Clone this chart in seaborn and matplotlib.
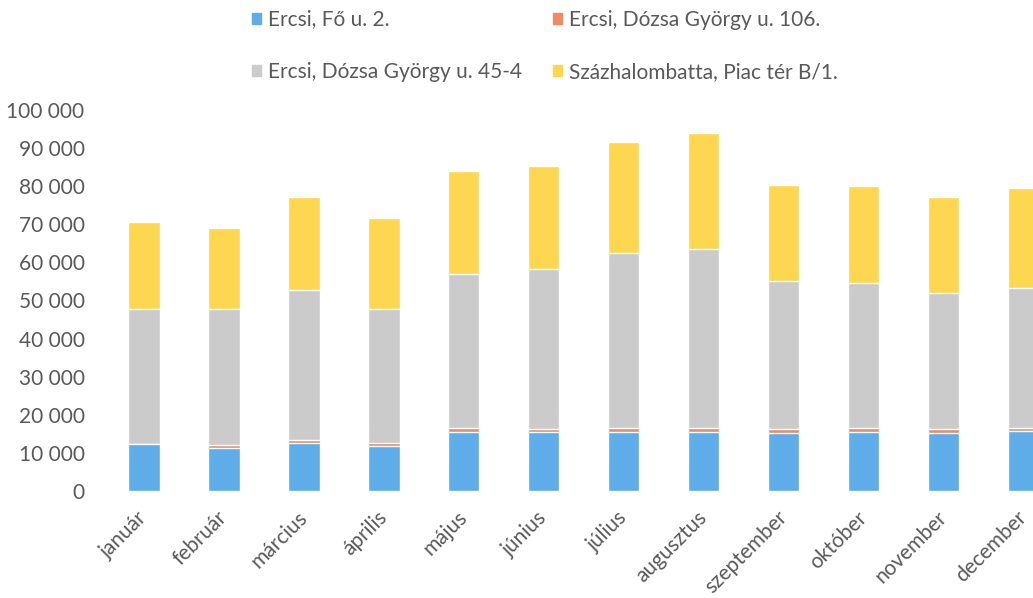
import matplotlib
matplotlib.use("Agg")
import matplotlib.pyplot as plt
import matplotlib.patches as mpatches
import seaborn as sns
import pandas as pd
from matplotlib.ticker import FuncFormatter

# monthly values
months = ['január', 'február', 'március', 'április', 'május', 'június',
          'július', 'augusztus', 'szeptember', 'október', 'november', 'december']
series_names = ['Ercsi, Fő u. 2.', 'Ercsi, Dózsa György u. 106.',
                'Ercsi, Dózsa György u. 45-4', 'Százhalombatta, Piac tér B/1.']
fo_u_2 = [12300, 11300, 12600, 11800, 15500, 15400, 15500, 15500, 15300, 15600, 15300, 15700]
dozsa_106 = [100, 800, 700, 900, 1000, 900, 900, 900, 900, 900, 900, 900]
dozsa_45 = [35400, 35700, 39500, 35100, 40500, 42000, 46100, 47100, 38900, 38100, 35800, 36700]
piac_ter = [22800, 21200, 24400, 23900, 27000, 27000, 29100, 30500, 25200, 25500, 25200, 26200]
colors = ['#5EADE8', '#EE8B63', '#CBCBCB', '#FDD750']
text_color = '#595959'

df = pd.DataFrame({
    series_names[0]: fo_u_2,
    series_names[1]: dozsa_106,
    series_names[2]: dozsa_45,
    series_names[3]: piac_ter,
}, index=months)
cum = df.cumsum(axis=1)

sns.set_theme(style="white")
plt.rcParams['font.family'] = ['Lato', 'DejaVu Sans']

fig = plt.figure(figsize=(10.33, 5.98), dpi=100)
ax = fig.add_axes([0.1007, 0.179, 0.929, 0.637])

# stacked bars: draw cumulative totals from the top series down
for name, c in reversed(list(zip(series_names, colors))):
    sns.barplot(x=months, y=cum[name].values, color=c, width=0.39,
                saturation=1, ax=ax)

ax.set_xlim(-0.5, 11.5)
ax.set_ylim(0, 100000)
ax.set_yticks(range(0, 100001, 10000))
ax.yaxis.set_major_formatter(FuncFormatter(lambda v, p: f"{int(v):,}".replace(",", " ")))
ax.tick_params(axis='y', labelsize=15, labelcolor=text_color, length=0, pad=14)
ax.tick_params(axis='x', labelsize=15, labelcolor=text_color, length=0, pad=17)
ax.set_xticks(range(len(months)))
ax.set_xticklabels(months, rotation=45, ha='right', va='center', rotation_mode='anchor')
ax.set_xlabel('')
ax.set_ylabel('')
sns.despine(ax=ax, left=True, bottom=True)

handles = [mpatches.Patch(color=c) for c in colors]
order = [0, 2, 1, 3]
fig.legend([handles[i] for i in order], [series_names[i] for i in order],
           ncol=2, loc='upper left', bbox_to_anchor=(0.244, 0.984),
           frameon=False, fontsize=15, labelcolor=text_color,
           handlelength=0.45, handleheight=0.45, handletextpad=0.3,
           columnspacing=1.5, labelspacing=1.55, borderpad=0, borderaxespad=0)

fig.savefig('out.png', dpi=100)
